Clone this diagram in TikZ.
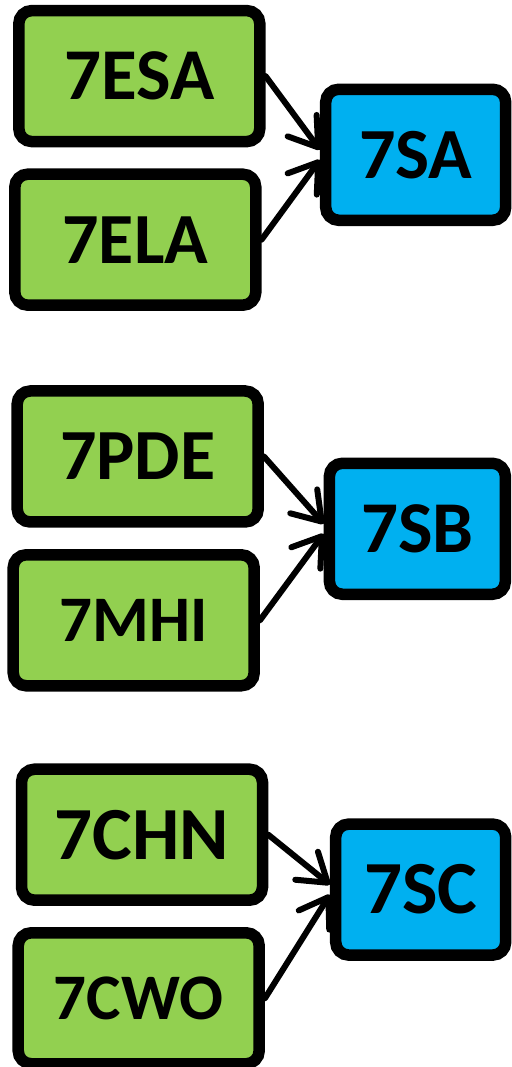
\documentclass[tikz,border=0pt]{standalone}
\usepackage{fontspec}
\setmainfont{Carlito}
\usetikzlibrary{arrows.meta}
\definecolor{boxgreen}{HTML}{92D050}
\definecolor{boxblue}{HTML}{00B0F0}
\tikzset{
  srcbox/.style={draw=black, line width=11.5pt, fill=boxgreen, rounded corners=13pt,
    minimum width=241pt, minimum height=131pt, inner sep=0pt, font=\bfseries},
  dstbox/.style={draw=black, line width=11.5pt, fill=boxblue, rounded corners=13pt,
    minimum height=131pt, inner sep=0pt, font=\bfseries},
  link/.style={line width=6pt, line cap=round,
    -{Straight Barb[length=27pt,width=36pt,round]}}
}
\newcommand{\fsz}[1]{\fontsize{#1}{#1}\selectfont}
\begin{document}
\begin{tikzpicture}[x=1pt,y=1pt]
\useasboundingbox (0,0) rectangle (511,1067);
% group 1
\node[srcbox] (esa) at (139.3,990.9) {\fsz{73}7ESA};
\node[srcbox] (ela) at (135.3,827.3) {\fsz{72}7ELA};
\node[dstbox, minimum width=180pt] (sa) at (415.7,912.2) {\fsz{72}7SA};
% group 2
\node[srcbox] (pde) at (137.7,610.5) {\fsz{72}7PDE};
\node[srcbox] (mhi) at (133.7,446.7) {\fsz{65}7MHI};
\node[dstbox, minimum width=176pt] (sb) at (417.4,538.2) {\fsz{73}7SB};
% group 3
\node[srcbox] (chn) at (142,232.3) {\fsz{75}7CHN};
\node[srcbox] (cwo) at (138.7,68.7) {\fsz{65}7CWO};
\node[dstbox, minimum width=170pt] (sc) at (420.7,177.4) {\fsz{75}7SC};
% connectors
\draw[link] (esa.east) -- ([yshift=5pt]sa.west);
\draw[link] (ela.east) -- ([yshift=-5pt]sa.west);
\draw[link] (pde.east) -- ([yshift=5pt]sb.west);
\draw[link] (mhi.east) -- ([yshift=-5pt]sb.west);
\draw[link] (chn.east) -- ([yshift=5pt]sc.west);
\draw[link] (cwo.east) -- ([yshift=-5pt]sc.west);
\end{tikzpicture}
\end{document}
